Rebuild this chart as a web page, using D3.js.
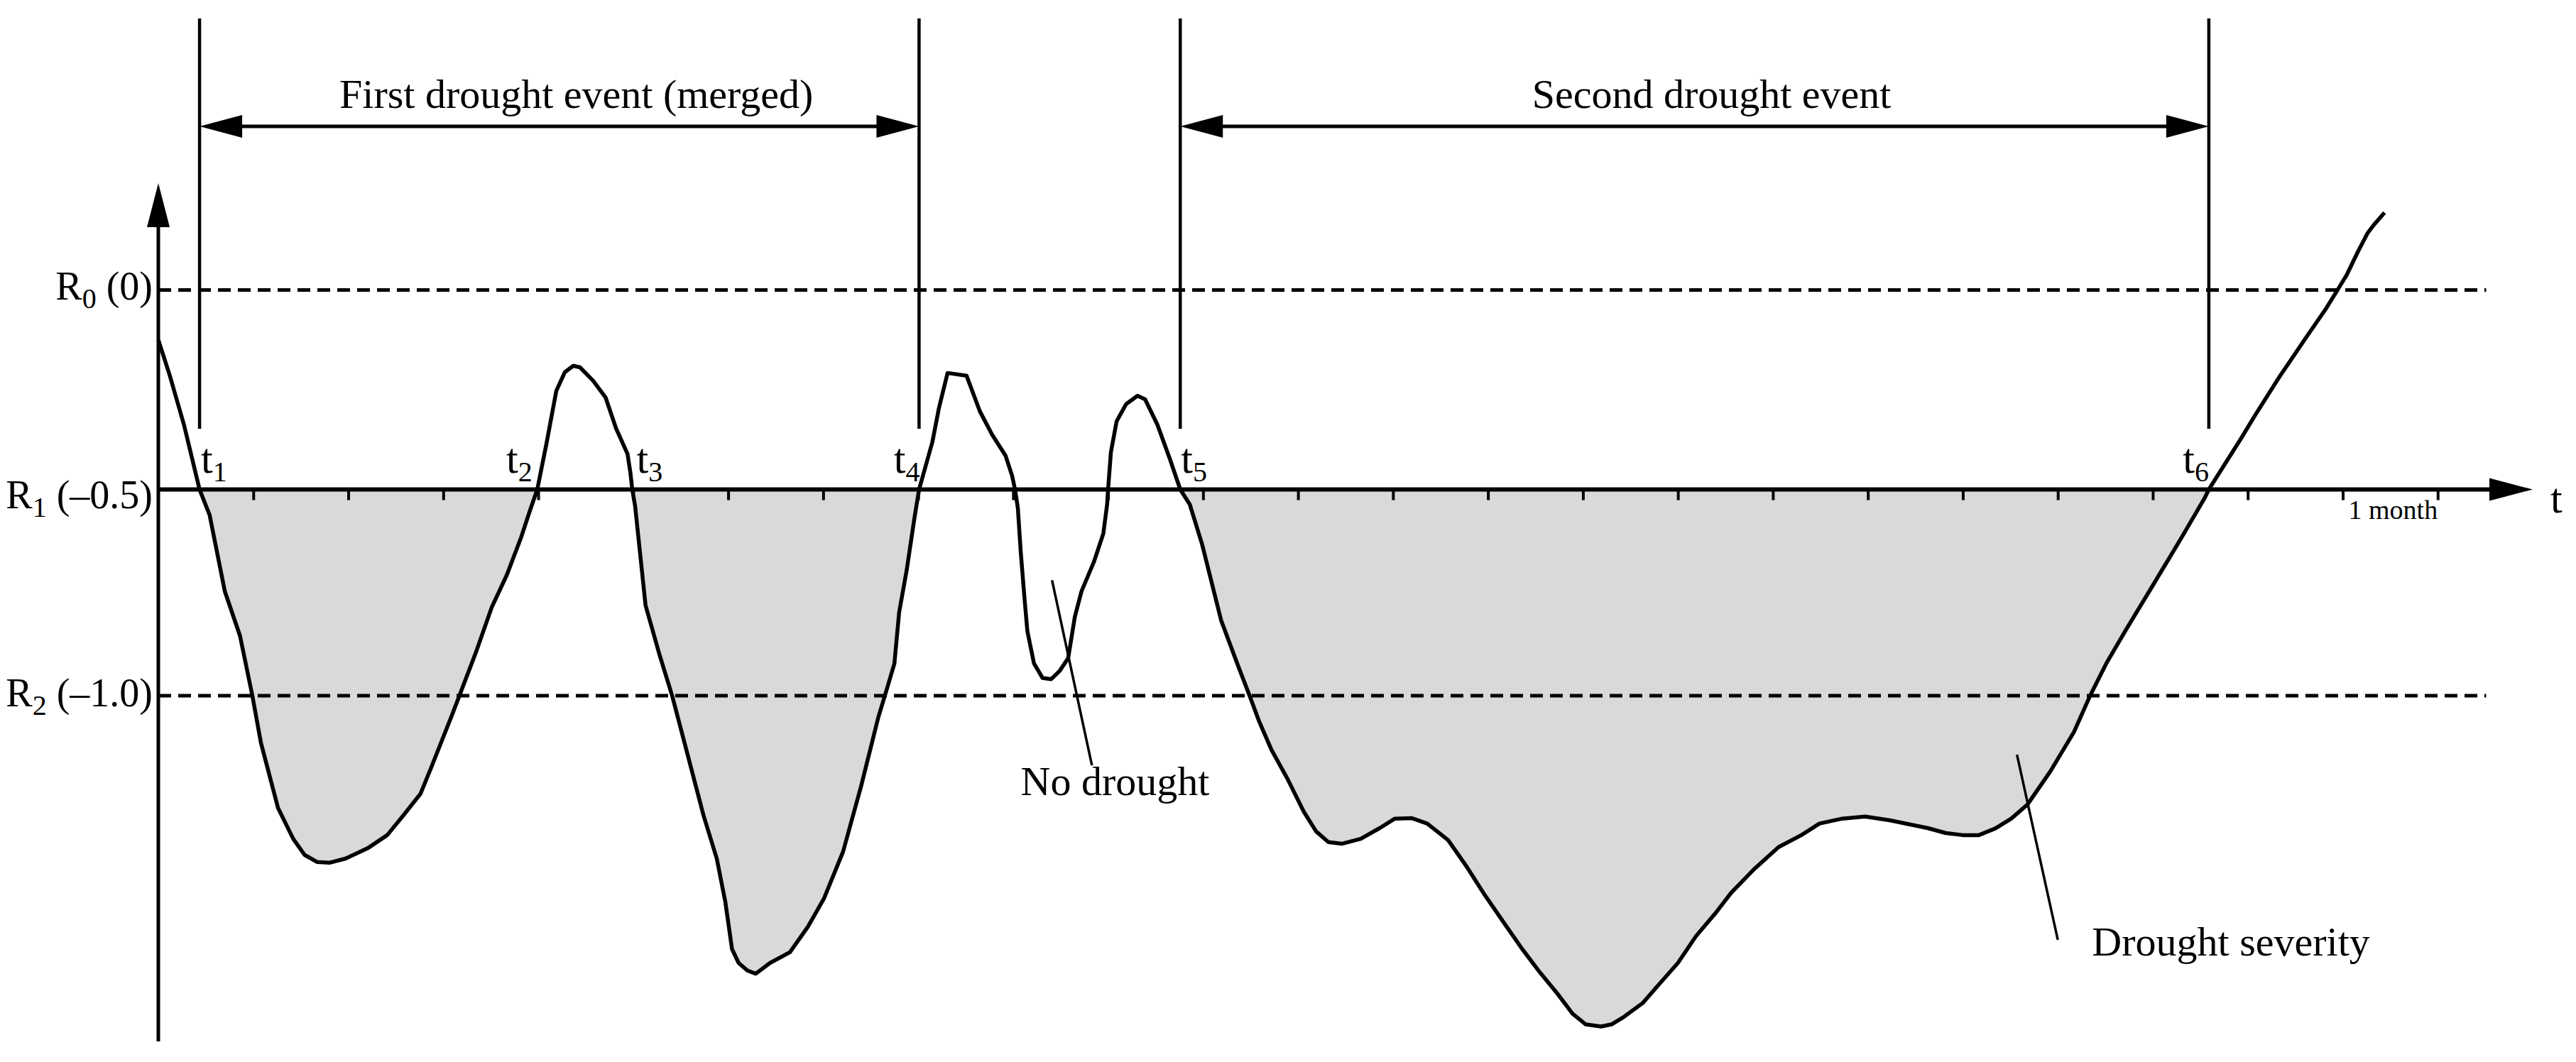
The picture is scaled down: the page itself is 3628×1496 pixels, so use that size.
<!DOCTYPE html>
<html>
<head>
<meta charset="utf-8">
<script src="https://cdn.jsdelivr.net/npm/d3@7"></script>
<style>
  body { margin: 0; background: #fff; }
  svg { display: block; }
  text { font-family: "Liberation Serif", "Times New Roman", serif; fill: #000; }
</style>
</head>
<body>
<svg id="chart" width="3628" height="1496"></svg>
<script>
// ---------------- data ----------------
const months = [0, 0.12, 0.27, 0.434, 0.54, 0.70, 0.86, 0.99, 1.08, 1.26,
  1.42, 1.54, 1.67, 1.80, 1.97, 2.21, 2.41, 2.57, 2.76, 2.87,
  3.09, 3.17, 3.35, 3.51, 3.67, 3.82, 3.91, 3.99, 4.09, 4.19,
  4.28, 4.37, 4.44, 4.58, 4.71, 4.82, 4.94, 4.97, 4.99, 5.02,
  5.13, 5.28, 5.41, 5.54, 5.74, 5.88, 5.97, 6.04, 6.11, 6.20,
  6.29, 6.44, 6.65, 6.84, 7.01, 7.21, 7.40, 7.58, 7.65, 7.75,
  7.80, 7.88, 7.96, 8.01, 8.15, 8.22, 8.31, 8.51, 8.65, 8.78,
  8.92, 8.99, 9.02, 9.05, 9.08, 9.12, 9.15, 9.22, 9.31, 9.40,
  9.49, 9.58, 9.65, 9.72, 9.85, 9.95, 9.99, 10.0, 10.03, 10.09,
  10.19, 10.31, 10.39, 10.52, 10.65, 10.76, 10.86, 10.99, 11.19, 11.36,
  11.49, 11.59, 11.72, 11.89, 12.06, 12.19, 12.32, 12.46, 12.66, 12.86,
  13.02, 13.20, 13.36, 13.58, 13.78, 13.96, 14.16, 14.36, 14.53, 14.73,
  14.89, 15.03, 15.19, 15.30, 15.43, 15.63, 15.80, 16.00, 16.19, 16.40,
  16.56, 16.80, 17.06, 17.30, 17.49, 17.73, 17.97, 18.23, 18.63, 18.82,
  19.00, 19.17, 19.34, 19.51, 19.68, 19.92, 20.17, 20.34, 20.51, 20.71,
  21.01, 21.32, 21.55, 21.59, 21.93, 22.08, 22.33, 22.62, 22.82, 22.94,
  23.04, 23.16, 23.26, 23.33, 23.44];

const values = [-0.125, -0.214, -0.338, -0.5, -0.562, -0.747, -0.855, -1.0, -1.114, -1.272,
  -1.347, -1.386, -1.403, -1.405, -1.395, -1.369, -1.338, -1.293, -1.238, -1.176,
  -1.048, -1.0, -0.891, -0.786, -0.707, -0.616, -0.553, -0.5, -0.381, -0.253,
  -0.206, -0.190, -0.194, -0.228, -0.270, -0.347, -0.411, -0.457, -0.5, -0.540,
  -0.781, -0.903, -1.0, -1.114, -1.290, -1.395, -1.500, -1.614, -1.648, -1.666,
  -1.674, -1.648, -1.622, -1.560, -1.491, -1.378, -1.219, -1.053, -1.0, -0.922,
  -0.798, -0.695, -0.571, -0.5, -0.381, -0.295, -0.208, -0.215, -0.304, -0.363,
  -0.415, -0.466, -0.5, -0.545, -0.650, -0.764, -0.843, -0.922, -0.957, -0.960,
  -0.940, -0.909, -0.809, -0.747, -0.676, -0.607, -0.536, -0.5, -0.406, -0.329,
  -0.286, -0.265, -0.274, -0.338, -0.423, -0.5, -0.536, -0.633, -0.817, -0.922,
  -1.0, -1.062, -1.131, -1.202, -1.281, -1.329, -1.355, -1.359, -1.347, -1.321,
  -1.298, -1.297, -1.310, -1.350, -1.416, -1.481, -1.548, -1.614, -1.666, -1.722,
  -1.771, -1.797, -1.802, -1.797, -1.779, -1.745, -1.700, -1.648, -1.583, -1.526,
  -1.478, -1.421, -1.367, -1.338, -1.310, -1.298, -1.293, -1.302, -1.321, -1.333,
  -1.338, -1.338, -1.322, -1.298, -1.264, -1.184, -1.088, -1.0, -0.922, -0.843,
  -0.729, -0.610, -0.519, -0.5, -0.372, -0.313, -0.219, -0.117, -0.048, -0.002,
  0.037, 0.096, 0.142, 0.164, 0.194];

const thresholdLevels = [0, -0.5, -1.0];
const thresholdSubs = ["0", "1", "2"];
const thresholdTexts = [" (0)", " (\u20130.5)", " (\u20131.0)"];

const crossingMonths = [0.434, 3.99, 4.99, 8.01, 10.76, 21.59];
const crossingSubs = ["1", "2", "3", "4", "5", "6"];

const eventNames = ["First drought event (merged)", "Second drought event"];
const eventStartIdx = [0, 4];
const eventEndIdx = [3, 5];

const spellStartIdx = [0, 2, 4];
const spellEndIdx = [1, 3, 5];

const tickMonths = d3.range(1, 25);

// annotation anchors in data units
const annotTexts = ["No drought", "Drought severity"];
const annotTextPos = [[9.08, -1.241], [20.36, -1.630]];
const annotLeaderFrom = [[9.41, -0.72], [19.57, -1.143]];
const annotLeaderTo = [[9.83, -1.169], [20.0, -1.592]];

// ---------------- drawing ----------------
const svg = d3.select("#chart");
svg.append("rect").attr("width", 3628).attr("height", 1496).attr("fill", "#fff");

const x = d3.scaleLinear().domain([0, 25]).range([223, 3567]);
const y = d3.scaleLinear().domain([0, -0.5, -1]).range([408.5, 689.5, 980]);

const pts = months.map((m, i) => ({ m, v: values[i] }));
const base = -0.5;

// shaded drought spells
const area = d3.area()
  .x(d => x(d.m))
  .y0(y(base))
  .y1(d => y(Math.min(d.v, base)));
spellStartIdx.forEach((s, k) => {
  const ta = crossingMonths[s], tb = crossingMonths[spellEndIdx[k]];
  const seg = [{ m: ta, v: base }, ...pts.filter(p => p.m > ta && p.m < tb), { m: tb, v: base }];
  svg.append("path").datum(seg).attr("d", area).attr("fill", "#d9d9d9");
});

// dashed threshold lines (R0, R2)
[0, -1.0].forEach(lv => {
  svg.append("line")
    .attr("x1", x(0)).attr("x2", x(24.51))
    .attr("y1", y(lv)).attr("y2", y(lv))
    .attr("stroke", "#000").attr("stroke-width", 5)
    .attr("stroke-dasharray", "18,10");
});

// x axis (R1 line) with ticks
const axisY = y(base);
svg.append("line")
  .attr("x1", x(0)).attr("x2", x(24.6))
  .attr("y1", axisY).attr("y2", axisY)
  .attr("stroke", "#000").attr("stroke-width", 6);
svg.append("path")
  .attr("d", `M${x(25)},${axisY} L${x(25) - 61},${axisY - 16} L${x(25) - 61},${axisY + 16} Z`)
  .attr("fill", "#000");
const xAxis = svg.append("g")
  .attr("transform", `translate(0,${axisY})`)
  .call(d3.axisBottom(x).tickValues(tickMonths).tickSize(15).tickFormat(""));
xAxis.select(".domain").remove();
xAxis.selectAll(".tick line").attr("stroke", "#000").attr("stroke-width", 4);

// y axis
const yAxisX = x(0);
svg.append("line")
  .attr("x1", yAxisX).attr("x2", yAxisX)
  .attr("y1", 1467).attr("y2", 318)
  .attr("stroke", "#000").attr("stroke-width", 5);
svg.append("path")
  .attr("d", `M${yAxisX},258 L${yAxisX - 16},320 L${yAxisX + 16},320 Z`)
  .attr("fill", "#000");

// index curve
svg.append("path").datum(pts)
  .attr("d", d3.line().x(d => x(d.m)).y(d => y(d.v)))
  .attr("fill", "none").attr("stroke", "#000")
  .attr("stroke-width", 5.5).attr("stroke-linejoin", "round");

// event boundary verticals
const vTop = 26, vBottom = 604, arrowY = 178;
const boundaryIdx = [...new Set([...eventStartIdx, ...eventEndIdx])];
boundaryIdx.forEach(i => {
  svg.append("line")
    .attr("x1", x(crossingMonths[i])).attr("x2", x(crossingMonths[i]))
    .attr("y1", vTop).attr("y2", vBottom)
    .attr("stroke", "#000").attr("stroke-width", 4.5);
});

// event span arrows + titles
eventNames.forEach((name, k) => {
  const xa = x(crossingMonths[eventStartIdx[k]]);
  const xb = x(crossingMonths[eventEndIdx[k]]);
  svg.append("line")
    .attr("x1", xa + 20).attr("x2", xb - 20)
    .attr("y1", arrowY).attr("y2", arrowY)
    .attr("stroke", "#000").attr("stroke-width", 5);
  svg.append("path")
    .attr("d", `M${xa},${arrowY} L${xa + 60},${arrowY - 16} L${xa + 60},${arrowY + 16} Z`)
    .attr("fill", "#000");
  svg.append("path")
    .attr("d", `M${xb},${arrowY} L${xb - 60},${arrowY - 16} L${xb - 60},${arrowY + 16} Z`)
    .attr("fill", "#000");
  svg.append("text")
    .attr("x", (xa + xb) / 2 + 24).attr("y", 152)
    .attr("text-anchor", "middle")
    .attr("font-size", 58)
    .text(name);
});

// threshold labels
const labelBaselineShift = [13, 26, 15];
thresholdLevels.forEach((lv, i) => {
  const t = svg.append("text")
    .attr("x", 215).attr("y", y(lv) + labelBaselineShift[i])
    .attr("text-anchor", "end")
    .attr("font-size", 56);
  t.append("tspan").text("R");
  t.append("tspan").attr("font-size", 40).attr("dy", 12).text(thresholdSubs[i]);
  t.append("tspan").attr("dy", -12).text(thresholdTexts[i]);
});

// crossing labels t1..t6
const crossNudge = [2, -7, 6, 1, 1, 0];
crossingMonths.forEach((m, i) => {
  const t = svg.append("text")
    .attr("x", x(m) + crossNudge[i]).attr("y", 666)
    .attr("text-anchor", i % 2 === 0 ? "start" : "end")
    .attr("font-size", 60);
  t.append("tspan").text("t");
  t.append("tspan").attr("font-size", 40).attr("dy", 12).text(crossingSubs[i]);
});

// axis label t and scale label
svg.append("text").attr("x", x(25) + 25).attr("y", 722).attr("font-size", 60).text("t");
svg.append("text").attr("x", x(23.5) + 4).attr("y", 731)
  .attr("text-anchor", "middle").attr("font-size", 38).text("1 month");

// annotations
annotTexts.forEach((txt, i) => {
  svg.append("line")
    .attr("x1", x(annotLeaderFrom[i][0])).attr("y1", y(annotLeaderFrom[i][1]))
    .attr("x2", x(annotLeaderTo[i][0])).attr("y2", y(annotLeaderTo[i][1]))
    .attr("stroke", "#000").attr("stroke-width", 3.5);
  svg.append("text")
    .attr("x", x(annotTextPos[i][0])).attr("y", y(annotTextPos[i][1]))
    .attr("font-size", 58).text(txt);
});
</script>
</body>
</html>
